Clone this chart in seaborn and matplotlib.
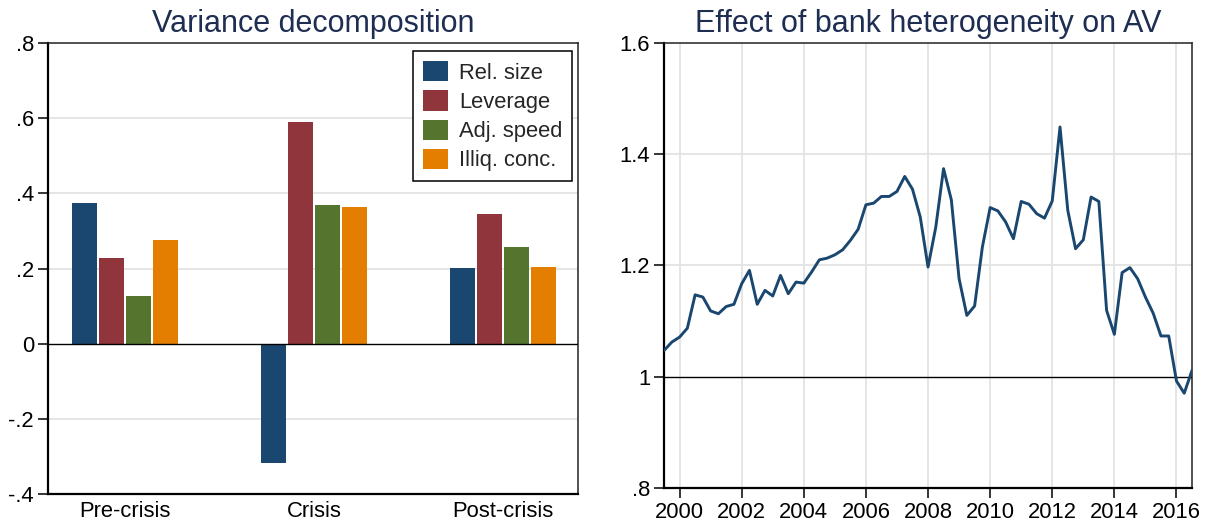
import numpy as np
import pandas as pd
import matplotlib
matplotlib.use("Agg")
import matplotlib.pyplot as plt
import seaborn as sns

# ---- data -------------------------------------------------------------
periods = ["Pre-crisis", "Crisis", "Post-crisis"]
factors = ["Rel. size", "Leverage", "Adj. speed", "Illiq. conc."]
rel_size = [0.375, -0.318, 0.202]
leverage = [0.229, 0.591, 0.344]
adj_speed = [0.128, 0.368, 0.258]
illiq_conc = [0.275, 0.364, 0.205]

bar_ticks = [-0.4, -0.2, 0.0, 0.2, 0.4, 0.6, 0.8]
bar_tick_labels = ["-.4", "-.2", "0", ".2", ".4", ".6", ".8"]

av_effect = [
    1.047, 1.062, 1.071, 1.087, 1.147, 1.143, 1.118, 1.113, 1.126, 1.130,
    1.167, 1.191, 1.130, 1.155, 1.145, 1.182, 1.149, 1.170, 1.168, 1.188,
    1.210, 1.213, 1.219, 1.228, 1.245, 1.265, 1.309, 1.312, 1.324, 1.324,
    1.333, 1.360, 1.337, 1.287, 1.197, 1.269, 1.374, 1.318, 1.176, 1.110,
    1.127, 1.233, 1.304, 1.298, 1.278, 1.248, 1.315, 1.310, 1.293, 1.285,
    1.316, 1.449, 1.299, 1.230, 1.246, 1.323, 1.315, 1.119, 1.076, 1.187,
    1.196, 1.176, 1.143, 1.114, 1.073, 1.073, 0.992, 0.970, 1.011,
]
quarters = pd.period_range("1999Q3", "2016Q3", freq="Q")

line_ticks = [0.8, 1.0, 1.2, 1.4, 1.6]
line_tick_labels = [".8", "1", "1.2", "1.4", "1.6"]
year_ticks = list(range(2000, 2017, 2))

# ---- styling ----------------------------------------------------------
sns.set_theme(style="white")
plt.rcParams["font.family"] = ["Liberation Sans", "DejaVu Sans"]

NAVY = "#1a476f"
colors = ["#1a476f", "#90353b", "#55752f", "#e37e00"]
TITLE_COLOR = "#1e2d52"
GRID = "#e3e3e3"
TICK_FS = 15.8
TITLE_FS = 22

fig = plt.figure(figsize=(12.12, 5.25), dpi=100)
ax1 = fig.add_axes([0.0396, 0.0590, 0.4373, 0.8590])
ax2 = fig.add_axes([0.5479, 0.0710, 0.4356, 0.8470])

# ---- left: grouped bars ----------------------------------------------
bars = pd.DataFrame({
    "period": np.repeat(periods, len(factors)),
    "factor": factors * len(periods),
    "value": np.column_stack([rel_size, leverage, adj_speed, illiq_conc]).ravel(),
})
sns.barplot(data=bars, x="period", y="value", hue="factor",
            order=periods, hue_order=factors, palette=colors,
            width=0.571, gap=0.074, linewidth=0, saturation=1,
            errorbar=None, ax=ax1)

ax1.set_xlim(-0.407, 2.397)
ax1.set_ylim(-0.4, 0.8)
ax1.set_yticks(bar_ticks)
ax1.set_yticklabels(bar_tick_labels)
for y in bar_ticks:
    if y not in (0.0, -0.4, 0.8):
        ax1.axhline(y, color=GRID, lw=1.3, zorder=0)
ax1.axhline(0, color="black", lw=1.0, zorder=3)
ax1.set_xlabel("")
ax1.set_ylabel("")
ax1.tick_params(axis="y", which="major", direction="out", length=7, width=1.1,
                color="black", labelsize=TICK_FS, pad=3, left=True)
ax1.tick_params(axis="x", which="major", length=0, labelsize=TICK_FS, pad=5)
ax1.set_title("Variance decomposition", fontsize=TITLE_FS, color=TITLE_COLOR, pad=8)

handles, labels = ax1.get_legend_handles_labels()
ax1.legend(handles, labels, loc="upper right", bbox_to_anchor=(0.989, 0.982),
           fontsize=TICK_FS, frameon=True, fancybox=False, edgecolor="black",
           framealpha=1, handlelength=1.15, handleheight=1.05,
           handletextpad=0.5, labelspacing=0.3, borderpad=0.45,
           borderaxespad=0)
ax1.get_legend().get_frame().set_linewidth(1.1)

# ---- right: quarterly line -------------------------------------------
line = pd.DataFrame({
    "date": quarters.year + (quarters.quarter - 1) / 4.0,
    "av": av_effect,
})
sns.lineplot(data=line, x="date", y="av", color=NAVY, lw=2.1, ax=ax2, zorder=4)

ax2.set_xlim(1999.5, 2016.5)
ax2.set_ylim(0.8, 1.6)
ax2.set_yticks(line_ticks)
ax2.set_yticklabels(line_tick_labels)
ax2.set_xticks(year_ticks)
for x in year_ticks:
    ax2.axvline(x, color=GRID, lw=1.3, zorder=0)
for y in (1.2, 1.4):
    ax2.axhline(y, color=GRID, lw=1.3, zorder=0)
ax2.axhline(1.0, color="black", lw=1.0, zorder=3)
ax2.set_xlabel("")
ax2.set_ylabel("")
ax2.tick_params(axis="both", which="major", direction="out", length=7, width=1.1,
                color="black", labelsize=TICK_FS, pad=3, left=True, bottom=True)
ax2.set_title("Effect of bank heterogeneity on AV", fontsize=TITLE_FS,
              color=TITLE_COLOR, pad=8)

for ax in (ax1, ax2):
    for side in ("left", "bottom"):
        ax.spines[side].set_color("black")
        ax.spines[side].set_linewidth(1.6)
    for side in ("top", "right"):
        ax.spines[side].set_color("#222222")
        ax.spines[side].set_linewidth(1.1)
    for lab in ax.get_xticklabels() + ax.get_yticklabels():
        lab.set_color("black")

fig.savefig("out.png", dpi=100)
